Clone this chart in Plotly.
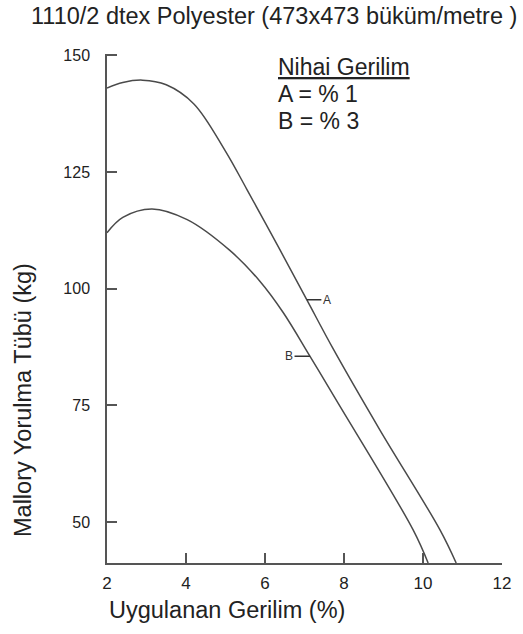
import plotly.graph_objects as go

# Curve A (Nihai Gerilim % 1)
a_x = [2.0, 2.4, 2.9, 3.5, 4.2, 4.99, 5.54, 6.38, 7.06, 7.72, 8.91, 10.43, 10.84]
a_y = [143.0, 144.2, 144.7, 143.7, 139.6, 129.6, 121.3, 108.3, 97.6, 87.2, 69.7, 48.3, 41.2]
# Curve B (Nihai Gerilim % 3)
b_x = [2.0, 2.4, 3.14, 4.03, 5.11, 5.87, 6.46, 7.14, 7.82, 9.75, 10.13]
b_y = [112.0, 115.3, 117.1, 114.8, 108.2, 101.6, 94.9, 85.5, 75.9, 48.3, 41.2]

x_ticks = [2, 4, 6, 8, 10, 12]
y_ticks = [50, 75, 100, 125, 150]

title_text = "1110/2 dtex Polyester (473x473 büküm/metre )"
x_title = "Uygulanan Gerilim (%)"
y_title = "Mallory Yorulma Tübü (kg)"
legend_lines = ["<u>Nihai Gerilim</u>", "A = % 1", "B = % 3"]

FONT = "Liberation Sans, Arial, sans-serif"
TXT = "#222222"
LINE = "#4a4a4a"

fig = go.Figure()
fig.add_trace(go.Scatter(x=a_x, y=a_y, mode="lines", line=dict(color=LINE, width=1.5, shape="spline", smoothing=1.0), showlegend=False))
fig.add_trace(go.Scatter(x=b_x, y=b_y, mode="lines", line=dict(color=LINE, width=1.5, shape="spline", smoothing=1.0), showlegend=False))

fig.update_layout(
    width=523, height=634,
    margin=dict(l=107, r=21, t=54, b=71),
    paper_bgcolor="white", plot_bgcolor="white",
    font=dict(family=FONT, color=TXT),
    showlegend=False,
)
fig.update_xaxes(range=[2, 12], tickvals=x_ticks, ticks="inside", ticklen=10, tickwidth=1.5,
                 tickcolor="#555", showline=True, linecolor="#555", linewidth=1.5,
                 showgrid=False, zeroline=False, tickfont=dict(size=17, color=TXT),
                 ticklabelstandoff=4)
fig.update_yaxes(range=[41.2, 150.3], tickvals=y_ticks, ticks="inside", ticklen=10, tickwidth=1.5,
                 tickcolor="#555", showline=True, linecolor="#555", linewidth=1.5,
                 showgrid=False, zeroline=False, tickfont=dict(size=16, color=TXT),
                 ticklabelstandoff=12)

ann = []
ann.append(dict(text=title_text, xref="paper", yref="paper", x=0.5, y=1, xanchor="center", yanchor="middle",
                yshift=54 - 16, xshift=(274 - (107 + 502) / 2), showarrow=False, font=dict(size=23.5, color=TXT)))
ann.append(dict(text=x_title, xref="paper", yref="paper", x=0, y=0, xanchor="left", yanchor="middle",
                yshift=-(610 - 563), showarrow=False, font=dict(size=23.5, color=TXT)))
ann.append(dict(text=y_title, xref="paper", yref="paper", x=0, y=0, xanchor="center", yanchor="middle",
                xshift=-(107 - 23), yshift=(563 - 400), textangle=-90, showarrow=False, font=dict(size=23.5, color=TXT)))
for i, t in enumerate(legend_lines):
    ann.append(dict(text=t, xref="paper", yref="paper", x=0, y=1, xanchor="left", yanchor="middle",
                    xshift=276 - 107, yshift=-(67 + 27 * i - 54), showarrow=False, font=dict(size=23, color=TXT)))
ann.append(dict(text="A", x=a_x[8], y=a_y[8], xref="x", yref="y", showarrow=True, arrowhead=0,
                arrowwidth=1.5, arrowcolor="#333", ax=20, ay=0, font=dict(size=12, color="#333")))
ann.append(dict(text="B", x=b_x[7], y=b_y[7], xref="x", yref="y", showarrow=True, arrowhead=0,
                arrowwidth=1.5, arrowcolor="#333", ax=-21, ay=0, font=dict(size=12, color="#333")))
fig.update_layout(annotations=ann)

fig.write_html("out.html")
